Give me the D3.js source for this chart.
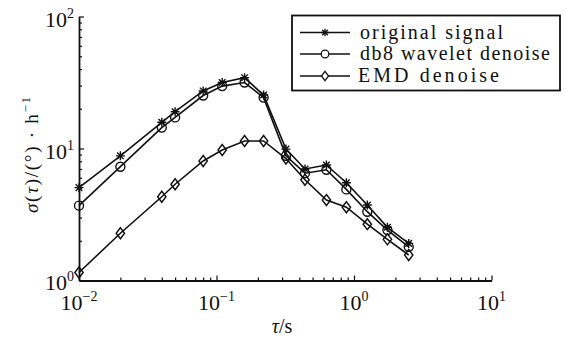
<!DOCTYPE html>
<html>
<head>
<meta charset="utf-8">
<script src="https://cdn.jsdelivr.net/npm/d3@7"></script>
<style>
  html, body { margin: 0; padding: 0; background: #fff; }
  svg { display: block; }
</style>
</head>
<body>
<svg id="chart" width="566" height="338"></svg>
<script>
// ---- data ----
const tau      = [0.01, 0.02, 0.04, 0.05, 0.08, 0.11, 0.16, 0.22, 0.32, 0.44, 0.63, 0.88, 1.25, 1.75, 2.5];
const original = [5.05, 8.8, 15.8, 19.0, 27.3, 31.6, 34.4, 25.4, 9.9, 7.0, 7.5, 5.5, 3.73, 2.53, 1.91];
const db8      = [3.69, 7.28, 14.4, 17.2, 25.2, 29.7, 31.6, 24.3, 8.8, 6.5, 6.9, 4.9, 3.32, 2.41, 1.80];
const emd      = [1.15, 2.28, 4.31, 5.36, 8.04, 9.74, 11.4, 11.4, 8.4, 5.8, 4.07, 3.59, 2.67, 2.05, 1.56];
const seriesNames = ["original signal", "db8 wavelet denoise", "EMD denoise"];
const xTickExps = [-2, -1, 0, 1];
const yTickExps = [0, 1, 2];

const FONT = "'Liberation Serif', Tinos, 'DejaVu Serif', serif";
const svg = d3.select("#chart").attr("font-family", FONT);
const x = d3.scaleLog().domain([0.01, 10]).range([79, 491.5]);
const y = d3.scaleLog().domain([1, 100]).range([280.5, 16.5]);

function minorTicks(lo, hi) {
  const t = [];
  for (let e = lo; e < hi; e++) for (let m = 1; m <= 9; m++) t.push(m * Math.pow(10, e));
  t.push(Math.pow(10, hi));
  return t;
}
const isMajor = v => Math.abs(Math.log10(v) - Math.round(Math.log10(v))) < 1e-9;

// x axis
const gx = svg.append("g").attr("transform", `translate(0,${y(1)})`)
  .call(d3.axisBottom(x).tickValues(minorTicks(-2, 1)).tickSizeOuter(0).tickFormat(""));
gx.select(".domain").attr("stroke", "#111").attr("stroke-width", 1.8);
gx.selectAll(".tick line").attr("stroke", "#111").attr("stroke-width", 1.2)
  .attr("y2", d => isMajor(d) ? -5 : -3);

// y axis
const gy = svg.append("g").attr("transform", `translate(${x(0.01)},0)`)
  .call(d3.axisLeft(y).tickValues(minorTicks(0, 2)).tickSizeOuter(0).tickFormat(""));
gy.select(".domain").attr("stroke", "#111").attr("stroke-width", 1.8);
gy.selectAll(".tick line").attr("stroke", "#111").attr("stroke-width", 1.2)
  .attr("x2", d => isMajor(d) ? 5 : 3);

// tick labels with superscript exponents
xTickExps.forEach(e => {
  const t = svg.append("text").attr("x", x(Math.pow(10, e))).attr("y", 310)
    .attr("text-anchor", "middle").attr("font-size", 22).attr("fill", "#111").attr("font-family", FONT);
  t.append("tspan").text("10");
  t.append("tspan").attr("font-size", 14).attr("dy", -9).text(e < 0 ? "\u2212" + (-e) : e);
});
yTickExps.forEach(e => {
  const t = svg.append("text").attr("x", 74).attr("y", y(Math.pow(10, e)) + (e === 0 ? 9 : 10))
    .attr("text-anchor", "end").attr("font-size", 22).attr("fill", "#111").attr("font-family", FONT);
  t.append("tspan").text("10");
  t.append("tspan").attr("font-size", 14).attr("dy", -9).text(e);
});

// axis titles
const xt = svg.append("text").attr("x", 282).attr("y", 333).attr("text-anchor", "middle")
  .attr("font-size", 20).attr("fill", "#111").attr("font-family", FONT);
xt.append("tspan").attr("font-style", "italic").text("\u03C4");
xt.append("tspan").text("/s");

const yt = svg.append("text").attr("transform", "translate(38,155) rotate(-90)")
  .attr("text-anchor", "middle").attr("font-size", 19).attr("fill", "#111").attr("font-family", FONT)
  .attr("textLength", 116).attr("lengthAdjust", "spacing");
yt.append("tspan").attr("font-style", "italic").text("\u03C3");
yt.append("tspan").text("(");
yt.append("tspan").attr("font-style", "italic").text("\u03C4");
yt.append("tspan").text(")/(\u00B0) \u00B7 h");
yt.append("tspan").attr("font-size", 13).attr("dy", -8).text("\u22121");

// markers
function markerPath(type) {
  if (type === "star") {
    const s = 4.5, d = 3.3;
    return `M${-s},0L${s},0M0,${-s}L0,${s}M${-d},${-d}L${d},${d}M${-d},${d}L${d},${-d}`;
  }
  if (type === "circle") {
    const r = 4.5;
    return `M${r},0A${r},${r},0,1,1,${-r},0A${r},${r},0,1,1,${r},0Z`;
  }
  return "M0,-5.5L4.2,0L0,5.5L-4.2,0Z";
}
const series = [
  { name: seriesNames[0], values: original, marker: "star" },
  { name: seriesNames[1], values: db8, marker: "circle" },
  { name: seriesNames[2], values: emd, marker: "diamond" }
];
const line = d3.line().x((d, i) => x(tau[i])).y(d => y(d));

series.forEach(s => {
  svg.append("path").datum(s.values).attr("d", line)
    .attr("fill", "none").attr("stroke", "#111").attr("stroke-width", 1.6);
  svg.append("g").selectAll("path").data(s.values).join("path")
    .attr("transform", (d, i) => `translate(${x(tau[i])},${y(d)})`)
    .attr("d", markerPath(s.marker))
    .attr("fill", "none").attr("stroke", "#111").attr("stroke-width", 1.4);
});

// legend
const lg = svg.append("g");
lg.append("rect").attr("x", 292).attr("y", 15.5).attr("width", 268).attr("height", 75)
  .attr("fill", "#fff").attr("stroke", "#111").attr("stroke-width", 1.8);
const rowsY = [32.5, 54, 76];
const textX = [360, 360, 358];
const textW = [143, 190, 141];
series.forEach((s, i) => {
  lg.append("line").attr("x1", 300).attr("x2", 350).attr("y1", rowsY[i]).attr("y2", rowsY[i])
    .attr("stroke", "#111").attr("stroke-width", 1.6);
  lg.append("path").attr("transform", `translate(325,${rowsY[i]}) scale(0.85)`)
    .attr("d", markerPath(s.marker)).attr("fill", "#fff").attr("stroke", "#111").attr("stroke-width", 1.5);
  lg.append("text").attr("x", textX[i]).attr("y", rowsY[i] + 6).attr("font-size", 20)
    .attr("fill", "#111").attr("font-family", FONT)
    .attr("textLength", textW[i]).attr("lengthAdjust", "spacing").text(s.name);
});
</script>
</body>
</html>
